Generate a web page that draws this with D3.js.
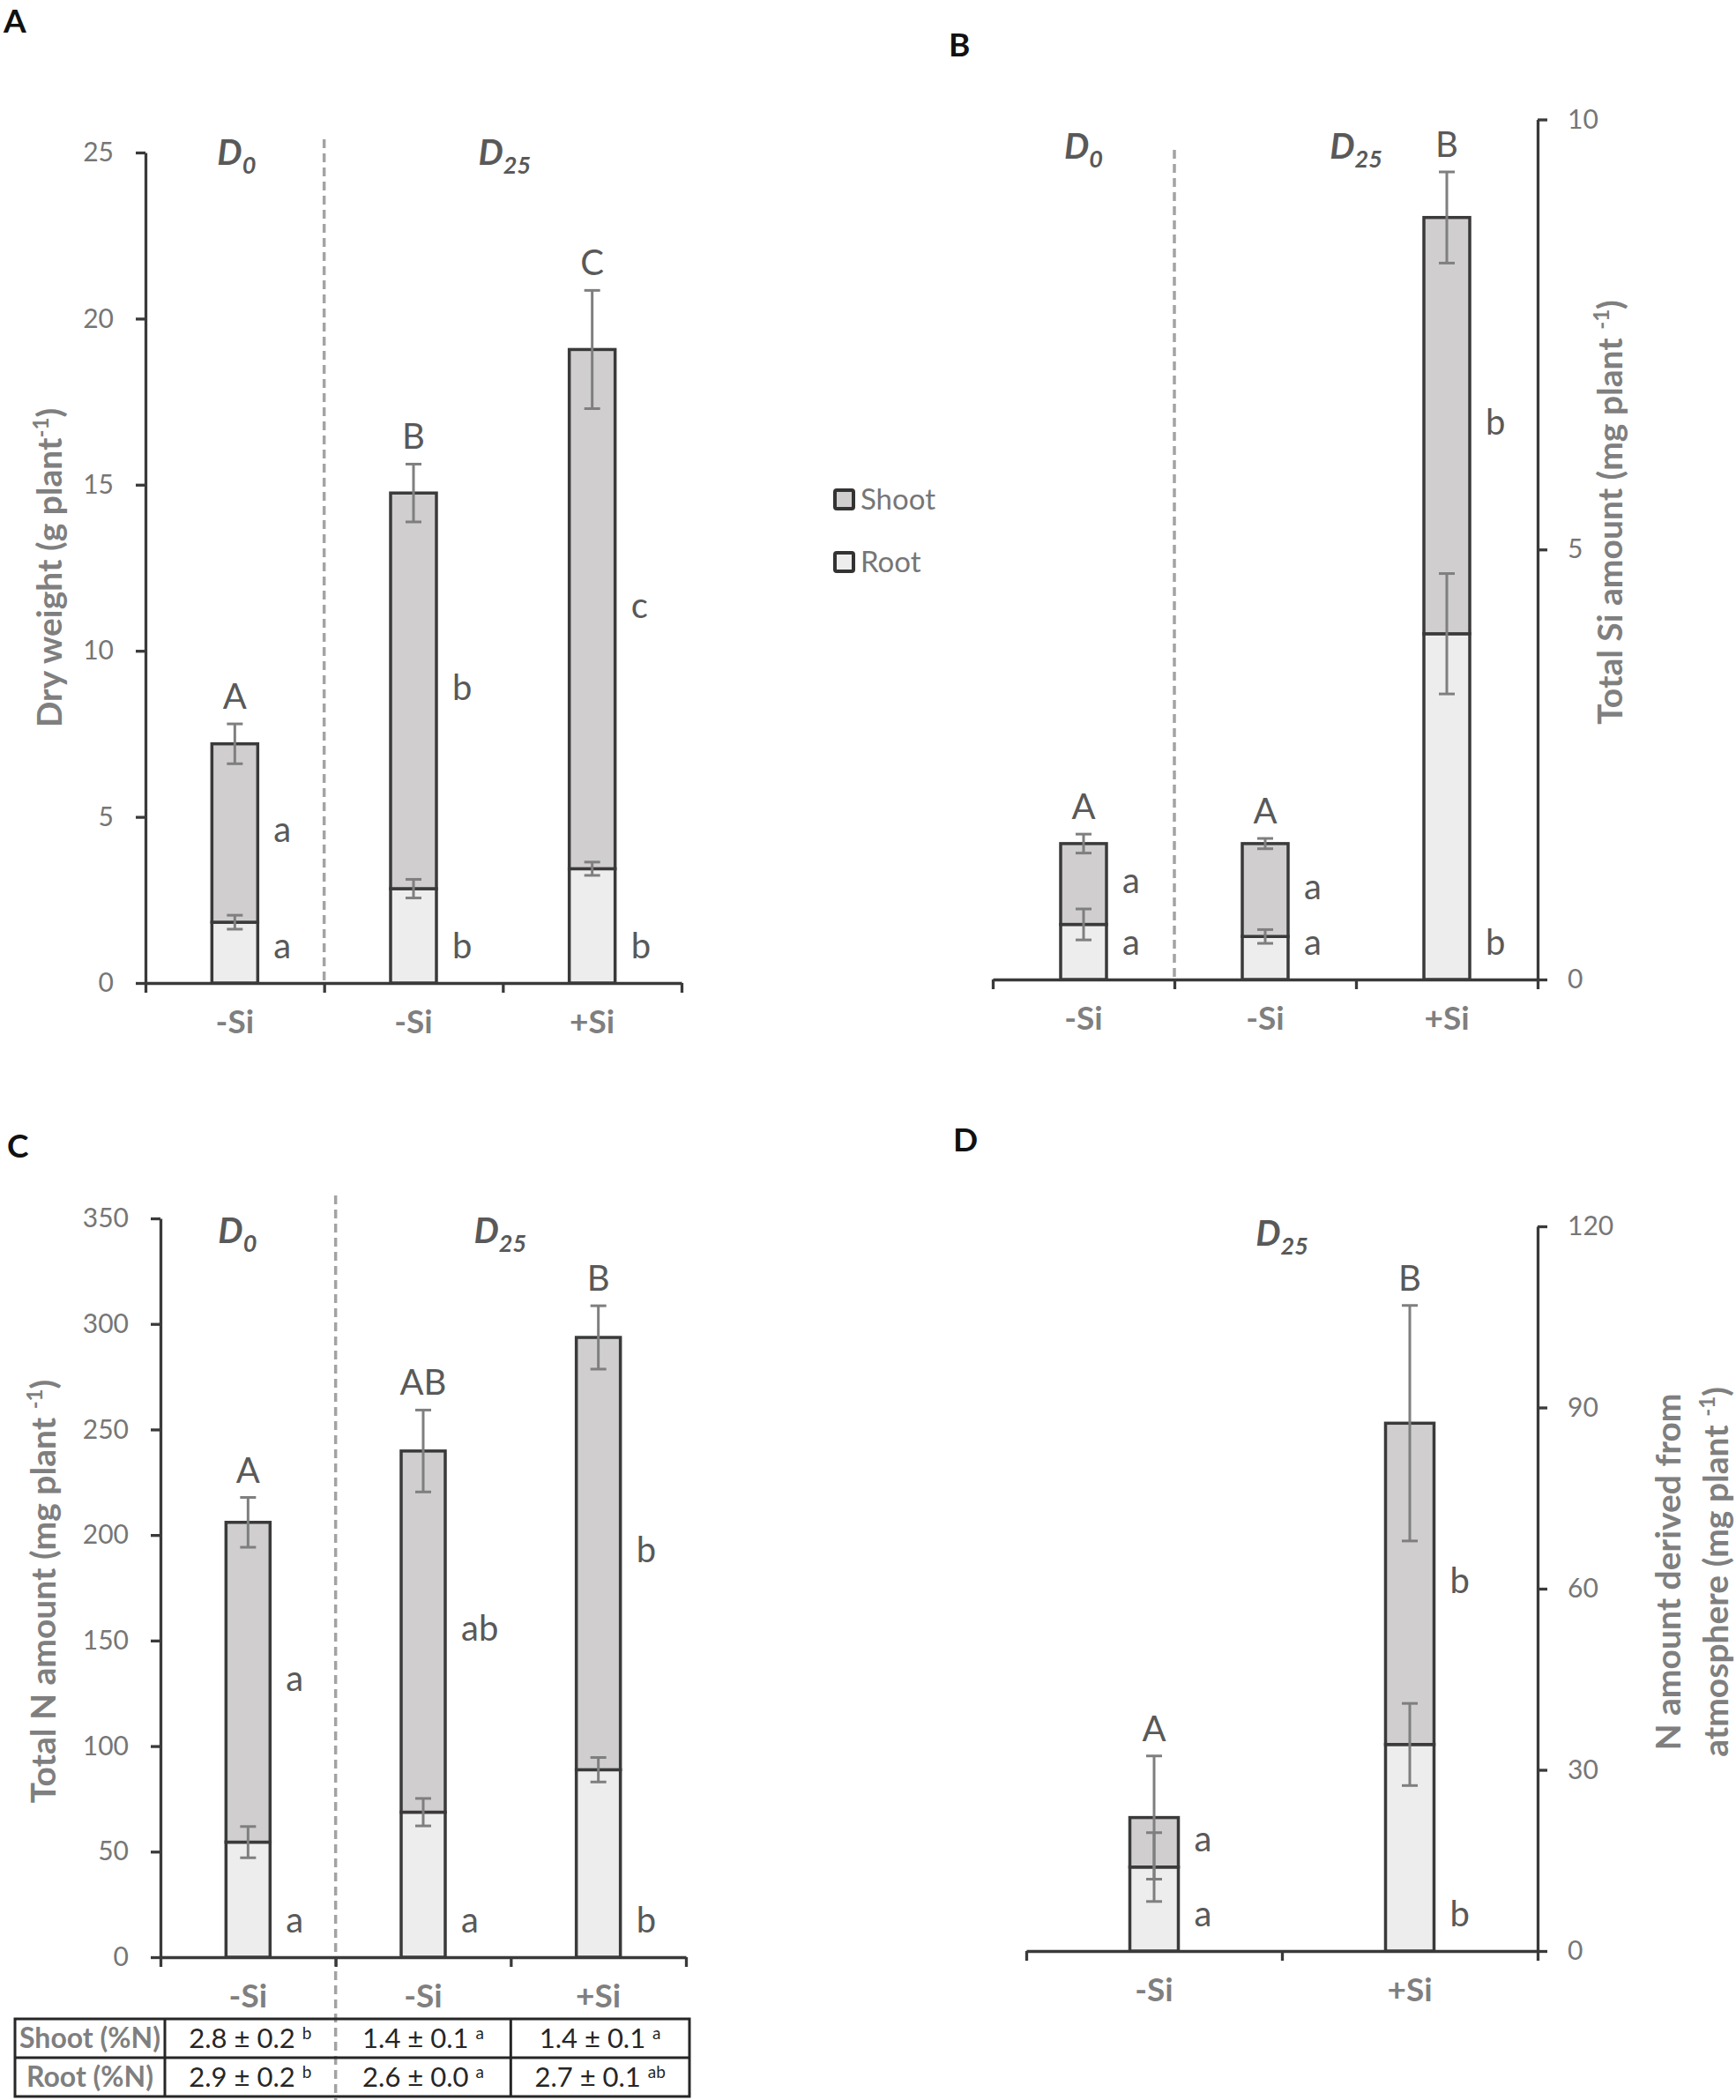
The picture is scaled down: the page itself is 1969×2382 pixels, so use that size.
<!DOCTYPE html>
<html>
<head>
<meta charset="utf-8">
<script src="https://cdn.jsdelivr.net/npm/d3@7"></script>
<style>
body { margin: 0; background: #fff; }
text { font-family: Lato, "Open Sans", sans-serif; }
</style>
</head>
<body>
<div id="fig"></div>
<script>
// ---- data ----
// A: dry weight (g plant-1)
var catsA = ["-Si", "-Si", "+Si"];
var doseA = ["0", "25", "25"];
var rootA = [1.83, 2.84, 3.44];
var shootA = [5.37, 11.91, 15.63];
var rootErrA = [0.21, 0.28, 0.2];
var shootErrA = [0.6, 0.87, 1.78];
var upperA = ["A", "B", "C"];
var shootLetA = ["a", "b", "c"];
var rootLetA = ["a", "b", "b"];
var ticksA = [0, 5, 10, 15, 20, 25];

// B: total Si amount (mg plant-1)
var catsB = ["-Si", "-Si", "+Si"];
var doseB = ["0", "25", "25"];
var rootB = [0.64, 0.5, 4.02];
var shootB = [0.94, 1.08, 4.84];
var rootErrB = [0.18, 0.08, 0.7];
var shootErrB = [0.11, 0.06, 0.53];
var upperB = ["A", "A", "B"];
var shootLetB = ["a", "a", "b"];
var rootLetB = ["a", "a", "b"];
var ticksB = [0, 5, 10];

// C: total N amount (mg plant-1)
var catsC = ["-Si", "-Si", "+Si"];
var doseC = ["0", "25", "25"];
var rootC = [54.5, 68.7, 88.8];
var shootC = [151.5, 171.1, 204.8];
var rootErrC = [7.4, 6.5, 5.8];
var shootErrC = [11.8, 19.4, 15];
var upperC = ["A", "AB", "B"];
var shootLetC = ["a", "ab", "b"];
var rootLetC = ["a", "a", "b"];
var ticksC = [0, 50, 100, 150, 200, 250, 300, 350];

// C table: %N
var tableRows = ["Shoot (%N)", "Root (%N)"];
var shootNMean = [2.8, 1.4, 1.4];
var shootNSe = [0.2, 0.1, 0.1];
var shootNSig = ["b", "a", "a"];
var rootNMean = [2.9, 2.6, 2.7];
var rootNSe = [0.2, 0.0, 0.1];
var rootNSig = ["b", "a", "ab"];

// D: N derived from atmosphere (mg plant-1)
var catsD = ["-Si", "+Si"];
var doseD = ["25", "25"];
var rootD = [13.9, 34.2];
var shootD = [8.2, 53.2];
var rootErrD = [5.7, 6.8];
var shootErrD = [10.2, 19.5];
var upperD = ["A", "B"];
var shootLetD = ["a", "b"];
var rootLetD = ["a", "b"];
var ticksD = [0, 30, 60, 90, 120];

var legendItems = ["Shoot", "Root"];

// ---- styles ----
var axisColor = "#3a3a3a";
var shootFill = "#d0cece";
var rootFill = "#ededed";
var errColor = "#7f7f7f";
var letterColor = "#595959";
var tickColor = "#767676";
var titleColor = "#7f7f7f";

var svg = d3.select("#fig").append("svg")
    .attr("width", 1969)
    .attr("height", 2382)
    .style("background", "#fff");

function drawPanel(p) {
    var g = svg.append("g");
    var n = p.cats.length;
    var y = d3.scaleLinear().domain([0, d3.max(p.ticks)]).range([p.y0, p.y1]);
    var xi = d3.scaleLinear().domain([0, n]).range([p.x0, p.x1]);
    var xb = d3.scaleBand().domain(d3.range(n)).range([p.x0, p.x1]);
    var cx = function (i) { return xb(i) + xb.bandwidth() / 2; };

    // groups of contiguous doses
    var groups = [];
    p.dose.forEach(function (d, i) {
        var last = groups[groups.length - 1];
        if (last && last.dose === d) last.to = i + 1;
        else groups.push({ dose: d, from: i, to: i + 1 });
    });

    // dashed dividers between dose groups
    groups.slice(1).forEach(function (gr) {
        g.append("line")
            .attr("x1", xi(gr.from)).attr("x2", xi(gr.from))
            .attr("y1", p.dashTop).attr("y2", p.dashBottom)
            .attr("stroke", "#a3a3a3")
            .attr("stroke-width", 3.5)
            .attr("stroke-dasharray", "10,6");
    });

    // y axis
    var axisX = p.right ? p.x1 : p.x0;
    var yAxis = (p.right ? d3.axisRight(y) : d3.axisLeft(y))
        .tickValues(p.ticks).tickSize(11).tickSizeOuter(0)
        .tickPadding(p.right ? 23 : 25);
    var ya = g.append("g").attr("transform", "translate(" + axisX + ",0)").call(yAxis);
    ya.select(".domain").attr("stroke", axisColor).attr("stroke-width", 3.3);
    ya.selectAll(".tick line").attr("stroke", axisColor).attr("stroke-width", 3.3);
    ya.selectAll(".tick text").attr("fill", tickColor)
        .style("font-size", "30px").attr("font-family", null);

    // x axis, ticks on category boundaries
    var xAxis = d3.axisBottom(xi).tickValues(d3.range(n + 1))
        .tickSize(11).tickSizeOuter(0).tickFormat("");
    var xa = g.append("g").attr("transform", "translate(0," + p.y0 + ")").call(xAxis);
    xa.select(".domain").attr("stroke", axisColor).attr("stroke-width", 3.3);
    xa.selectAll(".tick line").attr("stroke", axisColor).attr("stroke-width", 3.3);

    // category labels
    g.selectAll("text.cat").data(p.cats).enter().append("text")
        .attr("class", "cat")
        .attr("x", function (d, i) { return cx(i); })
        .attr("y", p.y0 + 57)
        .attr("text-anchor", "middle")
        .attr("fill", titleColor)
        .style("font-size", "37px").style("font-weight", "bold")
        .text(String);

    // stacked bars
    var bw = p.bw;
    g.selectAll("rect.root").data(p.root).enter().append("rect")
        .attr("x", function (d, i) { return cx(i) - bw / 2; })
        .attr("y", function (d) { return y(d); })
        .attr("width", bw)
        .attr("height", function (d) { return y(0) - y(d); })
        .attr("fill", rootFill)
        .attr("stroke", axisColor).attr("stroke-width", 3.5);
    g.selectAll("rect.shoot").data(p.shoot).enter().append("rect")
        .attr("x", function (d, i) { return cx(i) - bw / 2; })
        .attr("y", function (d, i) { return y(p.root[i] + d); })
        .attr("width", bw)
        .attr("height", function (d, i) { return y(p.root[i]) - y(p.root[i] + d); })
        .attr("fill", shootFill)
        .attr("stroke", axisColor).attr("stroke-width", 3.5);

    // error bars
    function errBars(vals, errs) {
        var cap = 9;
        vals.forEach(function (v, i) {
            var e = errs[i], x = cx(i);
            var eg = g.append("g").attr("stroke", errColor).attr("stroke-width", 3);
            eg.append("line").attr("x1", x).attr("x2", x).attr("y1", y(v - e)).attr("y2", y(v + e));
            eg.append("line").attr("x1", x - cap).attr("x2", x + cap).attr("y1", y(v - e)).attr("y2", y(v - e));
            eg.append("line").attr("x1", x - cap).attr("x2", x + cap).attr("y1", y(v + e)).attr("y2", y(v + e));
        });
    }
    var totals = p.root.map(function (r, i) { return r + p.shoot[i]; });
    errBars(totals, p.shootErr);
    errBars(p.root, p.rootErr);

    // significance letters
    g.selectAll("text.up").data(p.upper).enter().append("text")
        .attr("x", function (d, i) { return cx(i); })
        .attr("y", function (d, i) { return y(totals[i] + p.shootErr[i]) - 17; })
        .attr("text-anchor", "middle").attr("fill", letterColor)
        .style("font-size", "40px").text(String);
    g.selectAll("text.sl").data(p.shootLet).enter().append("text")
        .attr("x", function (d, i) { return cx(i) + bw / 2 + 18; })
        .attr("y", function (d, i) { return y(p.root[i] + p.shoot[i] / 2) + 10; })
        .attr("fill", letterColor)
        .style("font-size", "40px").text(String);
    g.selectAll("text.rl").data(p.rootLet).enter().append("text")
        .attr("x", function (d, i) { return cx(i) + bw / 2 + 18; })
        .attr("y", p.y0 - 28)
        .attr("fill", letterColor)
        .style("font-size", "40px").text(String);

    // dose labels D0 / D25
    groups.forEach(function (gr) {
        var t = g.append("text")
            .attr("x", (xi(gr.from) + xi(gr.to)) / 2 + p.doseShift)
            .attr("y", p.doseY)
            .attr("text-anchor", "middle")
            .attr("fill", letterColor)
            .style("font-weight", "bold").style("font-style", "italic");
        t.append("tspan").style("font-size", "40px").text("D");
        t.append("tspan").attr("dy", 10).style("font-size", "27px").text(gr.dose);
    });

    // axis title
    p.title.forEach(function (line, k) {
        var t = g.append("text")
            .attr("transform", "translate(" + (p.titleX + k * 54) + "," + p.titleY + ") rotate(-90)")
            .attr("text-anchor", "middle")
            .attr("fill", titleColor)
            .style("font-size", "39px").style("font-weight", "bold");
        t.append("tspan").text(line[0]);
        if (line[1]) {
            t.append("tspan").attr("dy", -15).style("font-size", "24px").text(line[1]);
            t.append("tspan").attr("dy", 15).text(line[2]);
        }
    });

    // panel letter
    svg.append("text")
        .attr("x", p.letterX).attr("y", p.letterY)
        .attr("fill", "#111")
        .style("font-size", "37px").style("font-weight", "bold")
        .text(p.letter);

    return { xi: xi, y: y };
}

drawPanel({
    letter: "A", letterX: 4, letterY: 37,
    cats: catsA, dose: doseA, root: rootA, shoot: shootA, rootErr: rootErrA, shootErr: shootErrA,
    upper: upperA, shootLet: shootLetA, rootLet: rootLetA, ticks: ticksA,
    x0: 165, x1: 773, y0: 1115, y1: 173, bw: 52, right: false,
    dashTop: 158, dashBottom: 1115, doseY: 187, doseShift: 2,
    titleX: 70, titleY: 644,
    title: [["Dry weight (g plant", "-1", ")"]]
});

drawPanel({
    letter: "B", letterX: 1076, letterY: 64,
    cats: catsB, dose: doseB, root: rootB, shoot: shootB, rootErr: rootErrB, shootErr: shootErrB,
    upper: upperB, shootLet: shootLetB, rootLet: rootLetB, ticks: ticksB,
    x0: 1126, x1: 1744, y0: 1111, y1: 135.5, bw: 52, right: true,
    dashTop: 170, dashBottom: 1111, doseY: 180, doseShift: 0,
    titleX: 1840, titleY: 581,
    title: [["Total Si amount (mg plant ", "-1", ")"]]
});

var pc = drawPanel({
    letter: "C", letterX: 8, letterY: 1313,
    cats: catsC, dose: doseC, root: rootC, shoot: shootC, rootErr: rootErrC, shootErr: shootErrC,
    upper: upperC, shootLet: shootLetC, rootLet: rootLetC, ticks: ticksC,
    x0: 182, x1: 778, y0: 2220, y1: 1382, bw: 50, right: false,
    dashTop: 1356, dashBottom: 2382, doseY: 1410, doseShift: -12,
    titleX: 63, titleY: 1805,
    title: [["Total N amount (mg plant ", "-1", ")"]]
});

drawPanel({
    letter: "D", letterX: 1081, letterY: 1306,
    cats: catsD, dose: doseD, root: rootD, shoot: shootD, rootErr: rootErrD, shootErr: shootErrD,
    upper: upperD, shootLet: shootLetD, rootLet: rootLetD, ticks: ticksD,
    x0: 1164, x1: 1744, y0: 2213, y1: 1391, bw: 55, right: true,
    dashTop: 0, dashBottom: 0, doseY: 1413, doseShift: 0,
    titleX: 1906, titleY: 1783,
    title: [["N amount derived from"], ["atmosphere (mg plant ", "-1", ")"]]
});

// legend
var lg = svg.append("g");
legendItems.forEach(function (name, i) {
    var yy = 554 + i * 71;
    lg.append("rect")
        .attr("x", 947).attr("y", yy + 2)
        .attr("width", 21).attr("height", 21).attr("rx", 2)
        .attr("fill", i === 0 ? shootFill : rootFill)
        .attr("stroke", "#333").attr("stroke-width", 4);
    lg.append("text")
        .attr("x", 976).attr("y", yy + 24)
        .attr("fill", tickColor)
        .style("font-size", "33px")
        .text(name);
});

// table under panel C
var colEdges = [17, pc.xi(0) + 5, pc.xi(1), pc.xi(2), pc.xi(3) + 4];
var rowEdges = [2290, 2334, 2378];
var tg = svg.append("g");
tg.append("rect")
    .attr("x", colEdges[0]).attr("y", rowEdges[0])
    .attr("width", colEdges[4] - colEdges[0]).attr("height", rowEdges[2] - rowEdges[0])
    .attr("fill", "none").attr("stroke", "#262626").attr("stroke-width", 3);
tg.append("line").attr("x1", colEdges[0]).attr("x2", colEdges[4])
    .attr("y1", rowEdges[1]).attr("y2", rowEdges[1])
    .attr("stroke", "#262626").attr("stroke-width", 3);
[1, 3].forEach(function (k) {
    tg.append("line").attr("x1", colEdges[k]).attr("x2", colEdges[k])
        .attr("y1", rowEdges[0]).attr("y2", rowEdges[2])
        .attr("stroke", "#262626").attr("stroke-width", 3);
});
var tableVals = [
    { mean: shootNMean, se: shootNSe, sig: shootNSig },
    { mean: rootNMean, se: rootNSe, sig: rootNSig }
];
tableRows.forEach(function (name, r) {
    var base = (rowEdges[r] + rowEdges[r + 1]) / 2 + 11;
    tg.append("text")
        .attr("x", (colEdges[0] + colEdges[1]) / 2).attr("y", base)
        .attr("text-anchor", "middle").attr("fill", titleColor)
        .style("font-size", "32px").style("font-weight", "bold")
        .text(name);
    var row = tableVals[r];
    row.mean.forEach(function (m, c) {
        var t = tg.append("text")
            .attr("x", (colEdges[c + 1] + colEdges[c + 2]) / 2).attr("y", base)
            .attr("text-anchor", "middle").attr("fill", "#262626")
            .style("font-size", "31px");
        t.append("tspan").text(m.toFixed(1) + " \u00b1 " + row.se[c].toFixed(1) + " ");
        t.append("tspan").attr("dy", -10).style("font-size", "19px").text(row.sig[c]);
    });
});
</script>
</body>
</html>
